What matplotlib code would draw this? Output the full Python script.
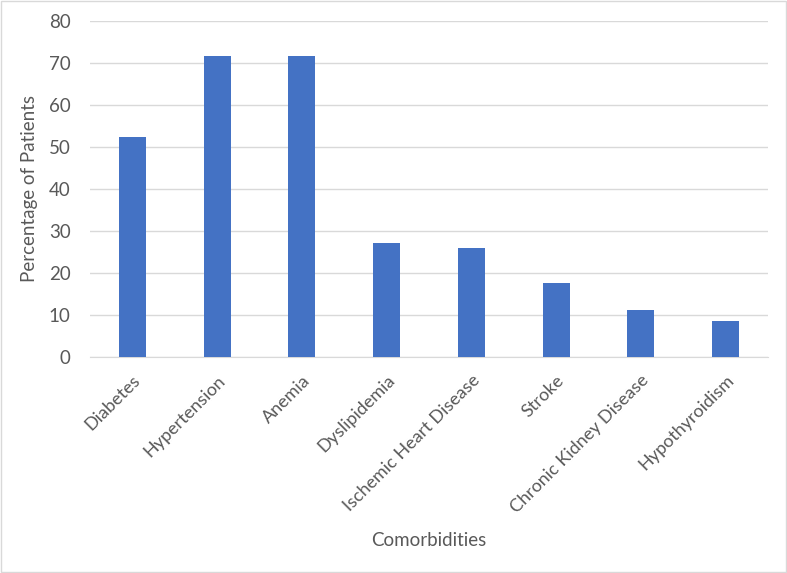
import matplotlib.pyplot as plt
from matplotlib.patches import Rectangle

# Comorbidity prevalence (% of patients)
comorbidities = ["Diabetes", "Hypertension", "Anemia", "Dyslipidemia",
                 "Ischemic Heart Disease", "Stroke", "Chronic Kidney Disease",
                 "Hypothyroidism"]
percent = [52.5, 71.6, 71.6, 27.1, 25.9, 17.6, 11.2, 8.6]
y_ticks = [0, 10, 20, 30, 40, 50, 60, 70, 80]

BAR_COLOR = "#4472C4"
TEXT_COLOR = "#595959"
GRID_COLOR = "#D9D9D9"

plt.rcParams['font.family'] = ['Lato', 'DejaVu Sans']

fig = plt.figure(figsize=(7.87, 5.73), dpi=100)
ax = fig.add_axes([90 / 787, 1 - 357 / 573, (768 - 90) / 787, (357 - 21) / 573])

x = range(len(comorbidities))
ax.bar(x, percent, width=0.32, color=BAR_COLOR, zorder=3)

ax.set_xlim(-0.5, len(comorbidities) - 0.5)
ax.set_ylim(0, 80)
ax.set_yticks(y_ticks)
ax.yaxis.grid(True, color=GRID_COLOR, linewidth=1, zorder=0)
ax.set_xticks(list(x))
ax.set_xticklabels(comorbidities, rotation=45, ha="right", rotation_mode="anchor")
ax.tick_params(axis="both", length=0, labelcolor=TEXT_COLOR)
ax.tick_params(axis="x", labelsize=13, pad=11)
ax.tick_params(axis="y", labelsize=13.5, pad=14)

for side in ["top", "right", "left"]:
    ax.spines[side].set_visible(False)
ax.spines["bottom"].set_color(GRID_COLOR)

ax.set_ylabel("Percentage of Patients", fontsize=13.5, color=TEXT_COLOR, labelpad=8)
fig.text(429 / 787, 1 - 540 / 573, "Comorbidities", fontsize=13.5,
         color=TEXT_COLOR, ha="center", va="center")

# light frame around the whole chart
fig.patches.append(Rectangle((0.001, 0.001), 0.998, 0.997, transform=fig.transFigure,
                             fill=False, edgecolor=GRID_COLOR, linewidth=1))

fig.savefig("out.png", dpi=100)
